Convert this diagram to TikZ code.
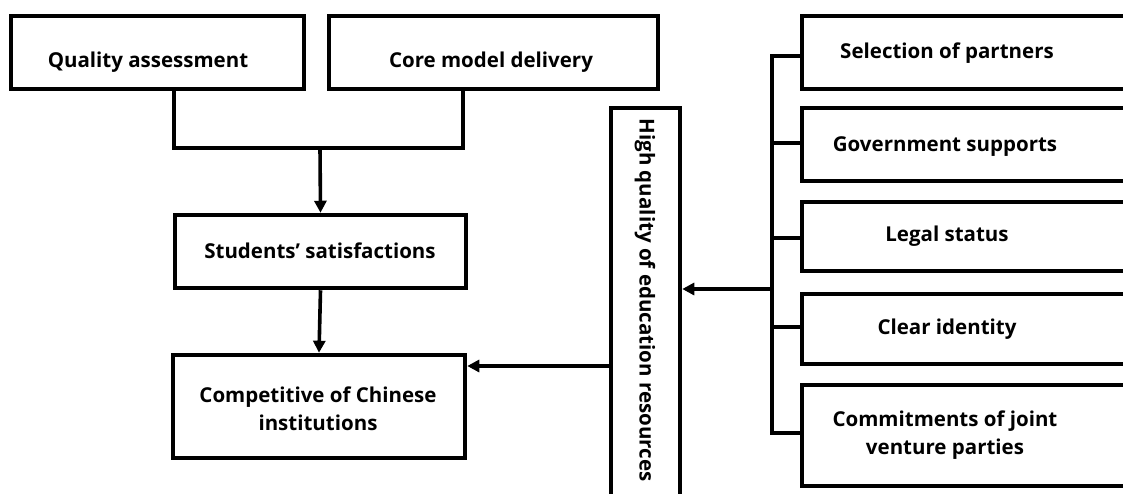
\documentclass[tikz,border=0pt]{standalone}
\usepackage{fontspec}
\setmainfont{Open Sans}
\usetikzlibrary{arrows.meta}
\begin{document}
\begin{tikzpicture}[x=1pt,y=-1pt,
  box/.style={draw=black,line width=4.5pt,rectangle,inner sep=0pt},
  lbl/.style={font=\bfseries\fontsize{20.5}{28}\selectfont,align=center,inner sep=0pt},
  conn/.style={line width=3.6pt},
  arr/.style={line width=3.6pt,-{Triangle[length=12pt,width=12pt]}}]
\useasboundingbox (0,0) rectangle (1123,493);
% left column
\node[box,minimum width=293pt,minimum height=73pt] (qa) at (157.5,52.5) {};
\node[lbl] (qat) at (148,62) {Quality assessment};
\node[box,minimum width=329pt,minimum height=73pt] (cmd) at (493.5,52.5) {};
\node[lbl] (cmdt) at (491,62) {Core model delivery};
\node[box,minimum width=291pt,minimum height=73pt] (ss) at (320.5,251.5) {};
\node[lbl] (sst) at (320,251) {Students’ satisfactions};
\node[box,minimum width=292pt,minimum height=103pt] (ci) at (319,406.5) {};
\node[lbl] (cit) at (318,409) {Competitive of Chinese\\institutions};
% vertical box
\node[box,minimum width=69pt,minimum height=412pt] (hq) at (645.5,314) {};
\node[lbl,rotate=-90] (hqt) at (645,300) {High quality of education resources};
% right column
\node[box,minimum width=338pt,minimum height=73pt] (sp) at (971,52.5) {};
\node[lbl] (spt) at (947,53) {Selection of partners};
\node[box,minimum width=338pt,minimum height=73pt] (gs) at (971,144.5) {};
\node[lbl] (gst) at (945,147) {Government supports};
\node[box,minimum width=338pt,minimum height=69pt] (ls) at (971,236.5) {};
\node[lbl] (lst) at (947,236) {Legal status};
\node[box,minimum width=338pt,minimum height=70pt] (cl) at (971,329) {};
\node[lbl] (clt) at (947,329) {Clear identity};
\node[box,minimum width=338pt,minimum height=101pt] (cj) at (971,435.5) {};
\node[lbl] (cjt) at (945,435) {Commitments of joint\\venture parties};
% connectors top
\coordinate (jn) at (320,148);
\draw[conn] (qa.south -| 174,0) |- (jn) -| (cmd.south -| 463,0);
\draw[arr] (jn) -- (ss.north);
\draw[arr] (ss.south) -- (ci.north);
% bracket
\coordinate (bt) at (772,56);
\coordinate (bb) at (772,433);
\draw[conn] (sp.west |- bt) -- (bt) -- (bb) -- (cj.west |- bb);
\draw[conn] (gs.west |- 0,143) -- (772,143);
\draw[conn] (ls.west |- 0,238) -- (772,238);
\draw[conn] (cl.west |- 0,327) -- (772,327);
\draw[arr] (772,289) -- (hq.east |- 0,289);
\draw[arr] (hq.west |- 0,366) -- (ci.east |- 0,366);
\end{tikzpicture}
\end{document}
